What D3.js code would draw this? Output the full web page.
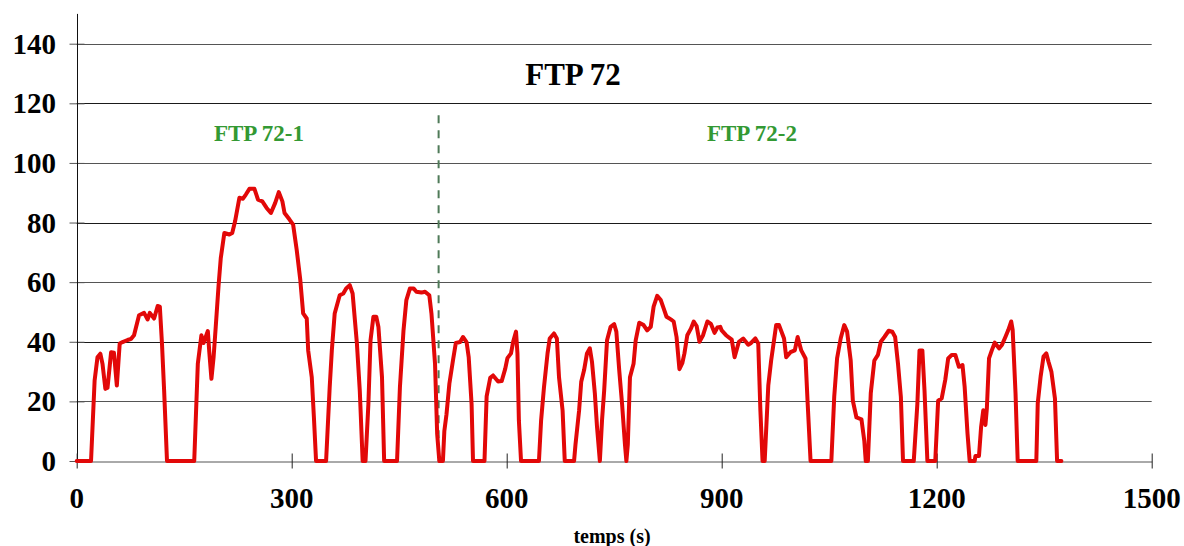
<!DOCTYPE html>
<html>
<head>
<meta charset="utf-8">
<script src="https://cdn.jsdelivr.net/npm/d3@7"></script>
<style>
  html, body { margin: 0; padding: 0; background: #fff; }
  svg { display: block; }
  text { font-family: "Liberation Serif", "Times New Roman", serif; font-weight: bold; }
</style>
</head>
<body>
<svg id="chart" width="1184" height="546"></svg>
<script>
// ---- data ----
const chartTitle = "FTP 72";
const phaseLabels = ["FTP 72-1", "FTP 72-2"];
const phaseSplit = 505;              // time (s) of the dashed separator
const xTicks = [0, 300, 600, 900, 1200, 1500];
const yTicks = [0, 20, 40, 60, 80, 100, 120, 140];
const xLabel = "temps (s)";

const timeS = [0,20,25,29,33,36,40,43,48,52,56,60,64,71,76,80,87,94,99,102,108,113,116,119,122,126,
164,169,174,177,183,185,188,191,194,198,201,206,213,217,221,227,232,236,241,248,253,259,265,271,277,282,287,290,297,
302,307,312,316,321,323,328,331,334,348,353,356,360,367,372,376,381,385,391,395,399,403,407,410,414,418,421,426,429,
447,451,456,460,465,470,474,481,486,492,495,500,503,506,511,513,516,520,525,529,535,539,544,547,551,553,
569,572,577,581,588,593,598,601,606,609,613,615,617,620,645,648,652,657,660,666,670,673,678,681,
694,696,701,704,708,712,716,719,723,726,730,733,736,740,745,750,753,757,761,765,767,769,772,777,780,785,791,796,801,805,810,815,819,823,829,833,837,841,845,848,852,857,861,865,869,874,880,885,890,894,898,
900,906,914,918,924,930,937,941,947,951,954,957,960,965,969,973,976,980,987,990,996,1002,1006,1011,1017,1020,1024,
1053,1057,1061,1066,1071,1075,1080,1083,1088,1095,1099,1101,1104,1108,1113,1118,1122,1127,1133,1138,1142,1146,1150,1153,
1168,1173,1176,1180,1183,1187,1198,1202,1207,1212,1216,1221,1226,1231,1236,1239,1243,1246,1253,1254,1259,1262,1265,1268,1270,1273,1277,1281,1287,1291,1296,1300,1304,1306,1310,1313,
1339,1341,1345,1349,1353,1356,1360,1365,1368,1374];

const speedKmh = [0,0,27,34.8,36,32.6,24.2,24.6,36.5,36.3,25.3,39.4,39.9,40.6,41,42.2,48.9,49.7,47.5,49.7,47.8,52,51.8,39.4,23.6,0,
0,32.6,42.2,39.6,43.6,36.6,27.6,34.8,45,59,68,76.5,76,76.5,80.4,88.3,88,89.4,91.3,91.3,87.7,87.1,84.9,83.2,86.6,90.2,87.1,83.2,81,
79.3,70.8,60.7,49.5,47.8,37.1,28.1,14.6,0,0,24.7,37.1,49.5,55.6,56.2,57.9,59,56.2,39.4,23.6,0,0,19.1,40.5,48.4,48.4,45,28.1,0,
0,24.7,43.8,54,57.9,57.9,56.8,56.5,56.8,55.6,49.5,32.6,9,0,0,10.1,15.7,25.9,33.7,39.6,39.9,41.6,39.9,34.8,19.1,0,
0,21.7,27.9,28.7,26.7,26.8,31,34.5,36.1,40,43.4,36.1,13.6,0,0,13.6,24.7,36.1,41.1,42.8,41.1,28.1,16.9,0,
0,5.6,16.9,26.6,30.5,36.1,37.8,33.3,22.7,11.5,0,13.6,23.6,40.5,45,45.9,43.4,30.5,19.1,5.6,0,5.6,28.1,32.6,40.5,46.4,45.6,43.8,45,51.8,55.4,54,51.2,48.4,47.5,46.8,41.6,30.8,32.8,36.1,42.2,44.4,46.8,45.3,40,42.2,46.8,46,43,44.8,45,
43.8,42.2,40.7,34.8,40,41.1,39,39.6,41.1,39.4,16.9,0,0,25.3,33.7,40.5,45.6,45.6,41.1,34.8,36.5,37.1,41.6,37.1,34.4,19.1,0,
0,21.5,34.4,41.1,45.6,43.4,33.7,20.2,14.6,14,6.7,0,0,22.7,33.7,35.6,40,41.6,43.7,43.4,41.6,32.6,21.5,0,
0,19.1,37.1,37.1,23.6,0,0,20.2,21,27.3,34.4,35.6,35.6,31.6,32.2,24.9,9.2,0,0,1.7,1.7,11.5,17,12.1,17.7,34.4,37.2,39.7,37.8,38.9,41.7,44,46.8,44,22.7,0,
0,19.4,28.3,35,36.1,33.3,30,21,0,0];

// ---- layout ----
const svg = d3.select("#chart");
const x = d3.scaleLinear().domain([0, 1500]).range([76.7, 1151.7]);
const y = d3.scaleLinear().domain([0, 140]).range([461, 43.7]);
const yTop = 150;

// gridlines
svg.append("g").selectAll("line")
  .data(yTicks.filter(d => d > 0))
  .join("line")
  .attr("x1", x(0)).attr("x2", x(1500))
  .attr("y1", d => Math.round(y(d)) + 0.5).attr("y2", d => Math.round(y(d)) + 0.5)
  .attr("stroke", (d, i) => (d % 40 === 0 ? "#1a1a1a" : "#555"))
  .attr("stroke-width", 1);

// y axis
const yAxis = svg.append("g").attr("transform", `translate(${Math.round(x(0)) + 0.5},0)`)
  .call(d3.axisLeft(y).tickValues(yTicks).tickSizeInner(-7).tickSizeOuter(0).tickFormat(() => ""));
yAxis.select(".domain").remove();
yAxis.selectAll(".tick line").attr("x1", -8).attr("x2", 7).attr("stroke", "#555");
svg.append("line")
  .attr("x1", Math.round(x(0)) + 0.5).attr("x2", Math.round(x(0)) + 0.5)
  .attr("y1", y(yTop)).attr("y2", y(0))
  .attr("stroke", "#111").attr("stroke-width", 1);
svg.append("g").selectAll("text")
  .data(yTicks).join("text")
  .attr("x", 56).attr("y", d => y(d) + 10)
  .attr("text-anchor", "end").attr("font-size", 29).attr("fill", "#000")
  .text(d => d);

// x axis
const xAxis = svg.append("g").attr("transform", `translate(0,${Math.round(y(0)) + 0.5})`)
  .call(d3.axisBottom(x).tickValues(xTicks).tickSizeOuter(0).tickFormat(() => ""));
xAxis.select(".domain").attr("stroke", "#555");
xAxis.selectAll(".tick line").attr("y1", -8).attr("y2", 7).attr("stroke", "#222");
svg.append("g").selectAll("text")
  .data(xTicks).join("text")
  .attr("x", d => x(d)).attr("y", 508)
  .attr("text-anchor", "middle").attr("font-size", 29).attr("fill", "#000")
  .text(d => d);

svg.append("text")
  .attr("x", 612).attr("y", 543)
  .attr("text-anchor", "middle").attr("font-size", 20).attr("fill", "#000")
  .text(xLabel);

// title & phase labels
svg.append("text")
  .attr("x", 573).attr("y", 85)
  .attr("text-anchor", "middle").attr("font-size", 31).attr("fill", "#000")
  .text(chartTitle);

svg.append("g").selectAll("text")
  .data(phaseLabels).join("text")
  .attr("x", (d, i) => [259, 752][i]).attr("y", 141)
  .attr("text-anchor", "middle").attr("font-size", 23).attr("fill", "#339933")
  .text(d => d);

// separator
svg.append("line")
  .attr("x1", x(phaseSplit)).attr("x2", x(phaseSplit))
  .attr("y1", y(116)).attr("y2", y(0))
  .attr("stroke", "#4f7a58").attr("stroke-width", 2)
  .attr("stroke-dasharray", "8,7");

// speed trace
const pts = timeS.map((t, i) => [t, speedKmh[i]]);
svg.append("path")
  .datum(pts)
  .attr("fill", "none")
  .attr("stroke", "#e20808")
  .attr("stroke-width", 4)
  .attr("stroke-linejoin", "round")
  .attr("stroke-linecap", "round")
  .attr("d", d3.line().x(d => x(d[0])).y(d => y(d[1])));
</script>
</body>
</html>
